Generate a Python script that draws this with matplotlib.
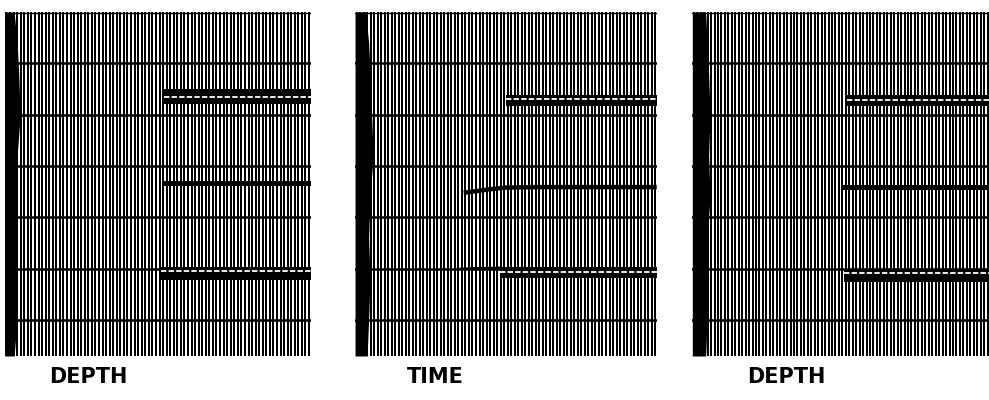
import numpy as np
import matplotlib
matplotlib.use("Agg")
import matplotlib.pyplot as plt

# record time in ms, timing lines every 100 ms
timing_lines = [100, 200, 300, 400, 500, 600]
t_end = 670
n_traces = 86

labels = ["DEPTH", "TIME", "DEPTH"]

# reflector bands per panel: (start fraction, top ms, bottom ms, white dashed line ms or None)
refl_1 = [(0.52, 149, 180, 165), (0.52, 330, 339, None), (0.51, 497, 522, 505)]
refl_2 = [(0.50, 162, 184, 170), (0.48, 497, 518, 506)]
refl_3 = [(0.52, 162, 184, 172), (0.50, 337, 346, None), (0.51, 501, 526, 508)]
reflectors = [refl_1, refl_2, refl_3]

# curved middle reflector in the TIME panel (trace fraction, ms)
curve_x = [0.36, 0.40, 0.45, 0.50, 0.60, 1.0]
curve_t = [352, 349, 345, 342, 341, 341]
# thin lead-in of the lower TIME reflector
lead_x = [0.35, 0.40, 0.48]
lead_t = [500, 499, 498]

# dark first-arrival band at left of each panel (ms, width fraction)
edge_t = [0, 60, 120, 200, 280, 360, 440, 520, 600, 670]
edge_w = [[0.030, 0.040, 0.045, 0.050, 0.040, 0.035, 0.040, 0.035, 0.040, 0.030],
          [0.035, 0.045, 0.050, 0.055, 0.060, 0.050, 0.045, 0.050, 0.045, 0.040],
          [0.045, 0.050, 0.055, 0.060, 0.055, 0.060, 0.050, 0.055, 0.050, 0.045]]

panels = [(0.005, 0.309), (0.359, 0.305), (0.700, 0.300)]
label_x = [0.089, 0.440, 0.795]

fig = plt.figure(figsize=(9.89, 4.0), dpi=100)

for k, (left, width) in enumerate(panels):
    ax = fig.add_axes([left, 0.11, width, 0.86])
    ax.set_xlim(0, 1)
    ax.set_ylim(t_end, 0)
    ax.axis("off")

    xs = np.linspace(0.005, 0.995, n_traces)
    ax.vlines(xs, 0, t_end, color="black", lw=1.45)

    for t in timing_lines:
        ax.axhline(t, color="black", lw=1.8)
    ax.axhline(1, color="black", lw=1.0)

    ax.fill_betweenx(edge_t, 0, edge_w[k], color="black", lw=0)

    for x0, top, bot, gap in reflectors[k]:
        ax.fill_between([x0, 1], top, bot, color="black", lw=0)
        if gap is not None:
            ax.plot([x0, 1], [gap, gap], color="white", lw=1.3,
                    dashes=(3, 1.2))

    if k == 1:
        ax.plot(curve_x, curve_t, color="black", lw=3.2, solid_capstyle="butt")
        ax.plot(lead_x, lead_t, color="black", lw=1.6)

    fig.text(label_x[k], 0.058, labels[k], ha="center", va="center",
             fontsize=15, fontweight="bold", family="DejaVu Sans")

fig.savefig("out.png", dpi=100, facecolor="white")
